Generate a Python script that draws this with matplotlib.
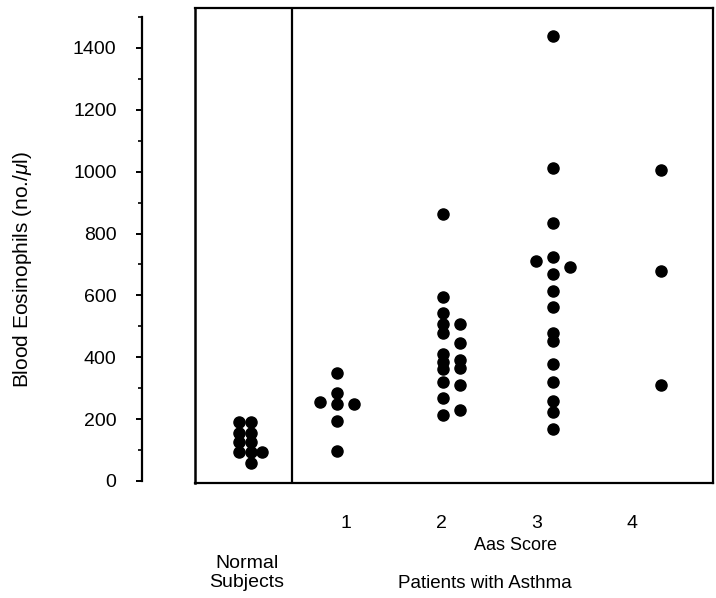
import matplotlib
matplotlib.use("Agg")
import matplotlib.pyplot as plt
from matplotlib.ticker import MultipleLocator

plt.rcParams['font.family'] = ['Liberation Sans', 'DejaVu Sans']
plt.rcParams['mathtext.fontset'] = 'custom'
plt.rcParams['mathtext.it'] = 'Liberation Sans:italic'
plt.rcParams['mathtext.rm'] = 'Liberation Sans'

# ---- data (blood eosinophils, no./ul) ----
score_labels = ["1", "2", "3", "4"]
score_ticks = [1, 2, 3, 4]

# group centre on the x scale, and column index (horizontal jitter) for each dot
normal_center = 0.0
normal_values = [192, 156, 127, 93, 192, 156, 127, 93, 57, 93]
normal_cols = [-1, -1, -1, -1, 0, 0, 0, 0, 0, 1]

score1_center = 0.905
score1_values = [348, 284, 256, 249, 248, 194, 98]
score1_cols = [0, 0, -1, 0, 1, 0, 0]

score2_center = 2.02
score2_values = [864, 594, 542, 506, 477, 411, 386, 361, 321, 267, 213,
                 506, 445, 391, 364, 310, 229]
score2_cols = [0] * 11 + [1] * 6

score3_center = 3.17
score3_values = [1437, 1013, 833, 723, 668, 614, 561, 480, 454, 377, 321, 259, 224, 167,
                 712, 693]
score3_cols = [0] * 14 + [-1, 1]

score4_center = 4.30
score4_values = [1006, 680, 311]
score4_cols = [0, 0, 0]

groups = [
    (normal_center, normal_values, normal_cols, 0.12),
    (score1_center, score1_values, score1_cols, 0.18),
    (score2_center, score2_values, score2_cols, 0.18),
    (score3_center, score3_values, score3_cols, 0.18),
    (score4_center, score4_values, score4_cols, 0.18),
]

W, H = 716, 598
fig = plt.figure(figsize=(W / 100, H / 100), dpi=100)
ax = fig.add_axes([195 / W, 1 - 483 / H, (713 - 195) / W, (483 - 8) / H])

for center, vals, cols, step in groups:
    xs = [center + c * step for c in cols]
    ax.plot(xs, vals, 'o', color='black', markersize=8, linestyle='none', clip_on=False)

ax.set_xlim(-0.584, 4.85)
ax.set_ylim(-6.5, 1529)

# frame
for s in ['top', 'right', 'bottom']:
    ax.spines[s].set_linewidth(1.6)
ax.spines['left'].set_position(('outward', 38))
ax.spines['left'].set_bounds(0, 1500)
ax.spines['left'].set_linewidth(1.6)
ax.plot([0, 0], [0, 1], transform=ax.transAxes, color='black', lw=1.8, clip_on=False)
ax.axvline(0.434, color='black', lw=1.6)

# y axis ticks
ax.yaxis.set_major_locator(MultipleLocator(200))
ax.yaxis.set_minor_locator(MultipleLocator(100))
ax.set_yticks(range(0, 1401, 200))
ax.tick_params(axis='y', which='major', length=4.5, width=1.4, pad=14, labelsize=14)
ax.tick_params(axis='y', which='minor', length=3, width=1.2)
ax.set_ylabel(r'Blood Eosinophils (no./$\mu$l)', fontsize=15)
ax.yaxis.set_label_coords(-0.31, 0.45)

# x axis ticks
ax.set_xticks(score_ticks)
ax.set_xticklabels(score_labels)
ax.tick_params(axis='x', which='both', length=0, pad=23, labelsize=14)

fig.text(516 / W, 1 - 545 / H, "Aas Score", ha='center', va='center', fontsize=13)
fig.text(247 / W, 1 - 573 / H, "Normal\nSubjects", ha='center', va='center',
         fontsize=14, linespacing=1.1)
fig.text(485 / W, 1 - 584 / H, "Patients with Asthma", ha='center', va='center', fontsize=13.5)

fig.savefig("out.png", dpi=100)
